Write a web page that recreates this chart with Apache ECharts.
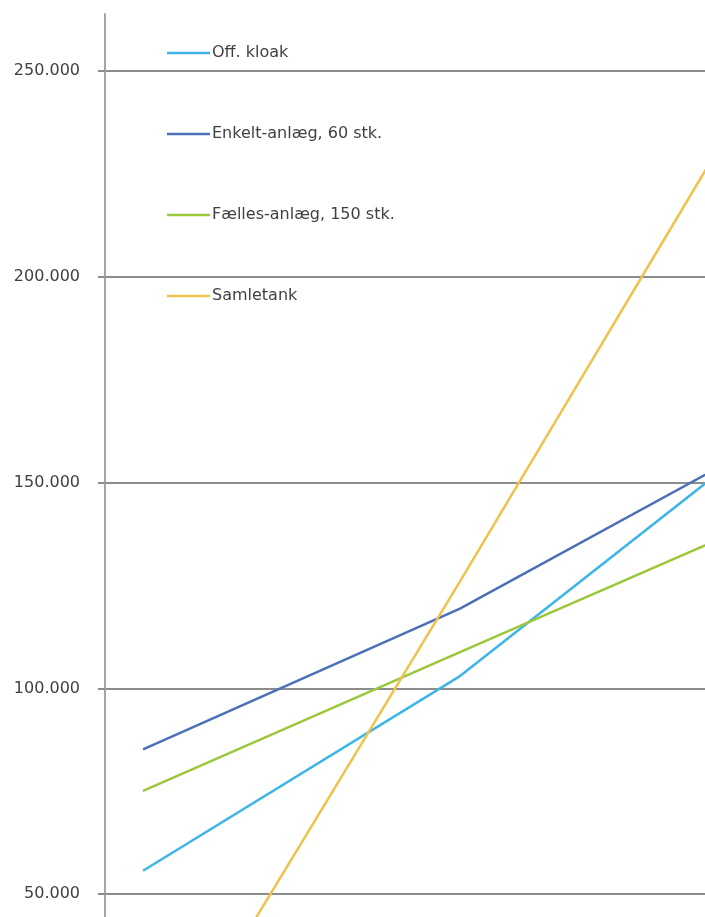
<!DOCTYPE html>
<html>
<head>
<meta charset="utf-8">
<script src="https://cdn.jsdelivr.net/npm/echarts@6/dist/echarts.min.js"></script>
<style>
html,body{margin:0;padding:0;background:#fff;}
#c{width:705px;height:917px;}
</style>
</head>
<body>
<div id="c"></div>
<script>
// Data
var xPoints = [0, 1, 2];
var seriesNames = ['Off. kloak', 'Enkelt-anlæg, 60 stk.', 'Fælles-anlæg, 150 stk.', 'Samletank'];
var offKloak = [55700, 103000, 163500];
var enkeltAnlaeg = [85200, 119400, 161400];
var faellesAnlaeg = [75100, 108800, 142400];
var samletank = [-1000, 126000, 255000];
var yTicks = [50000, 100000, 150000, 200000, 250000];

var colors = ['#3db5e6', '#4a70b8', '#9cc73b', '#f0c24c'];
var allValues = [offKloak, enkeltAnlaeg, faellesAnlaeg, samletank];

function fmt(v) {
  return String(v).replace(/\B(?=(\d{3})+(?!\d))/g, '.');
}

var chart = echarts.init(document.getElementById('c'));
var series = seriesNames.map(function (n, i) {
  return {
    name: n,
    type: 'line',
    symbol: 'none',
    clip: true,
    data: xPoints.map(function (x, j) { return [x, allValues[i][j]]; }),
    lineStyle: { color: colors[i], width: 2.5 },
    itemStyle: { color: colors[i] }
  };
});

chart.setOption({
  animation: false,
  backgroundColor: '#ffffff',
  grid: { left: 105, width: 600, top: 14, height: 1086, containLabel: false, outerBoundsMode: 'none' },
  xAxis: {
    type: 'value',
    min: -0.12,
    max: 1.773,
    show: false
  },
  yAxis: {
    type: 'value',
    min: 0,
    max: 263860,
    interval: 50000,
    axisLine: { show: true, onZero: false, lineStyle: { color: '#a6a6a6', width: 2 } },
    axisTick: { show: true, length: 7, customValues: yTicks, lineStyle: { color: '#8c8c8c', width: 2 } },
    splitLine: { show: true, lineStyle: { color: '#8c8c8c', width: 2 } },
    axisLabel: {
      customValues: yTicks,
      margin: 25,
      color: '#404040',
      fontFamily: 'DejaVu Sans',
      fontSize: 16,
      formatter: function (v) { return fmt(v); }
    }
  },
  legend: {
    orient: 'vertical',
    left: 162,
    top: 40,
    itemWidth: 43,
    itemHeight: 14,
    itemGap: 65,
    icon: 'path://M0,6 L43,6 L43,8.5 L0,8.5 Z',
    textStyle: { color: '#404040', fontFamily: 'DejaVu Sans', fontSize: 16, lineHeight: 14, padding: [0, 0, 0, -3] },
    data: seriesNames
  },
  series: series
});
</script>
</body>
</html>
